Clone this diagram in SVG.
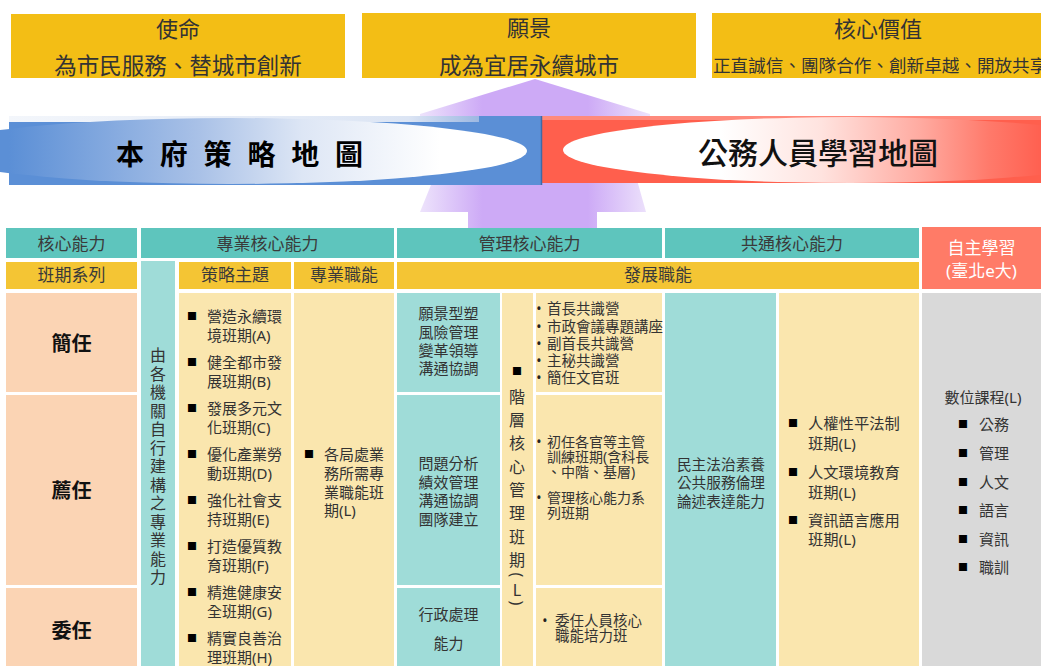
<svg xmlns="http://www.w3.org/2000/svg" width="1041" height="666" viewBox="0 0 1041 666">
<defs>
<linearGradient id="gBlue" gradientUnits="userSpaceOnUse" x1="9" y1="0" x2="440" y2="0">
<stop offset="0" stop-color="#5B8FD6"/>
<stop offset="0.44" stop-color="#A9C1E7"/>
<stop offset="0.68" stop-color="#DDE6F5"/>
<stop offset="1" stop-color="#FFFFFF"/>
</linearGradient>
<linearGradient id="gRed" gradientUnits="userSpaceOnUse" x1="563" y1="0" x2="1041" y2="0">
<stop offset="0" stop-color="#FFFFFF"/>
<stop offset="0.33" stop-color="#FFFFFF"/>
<stop offset="0.54" stop-color="#FFE3DF"/>
<stop offset="0.75" stop-color="#FFAAA0"/>
<stop offset="0.89" stop-color="#FF7A6B"/>
<stop offset="1" stop-color="#FF6050"/>
</linearGradient>
<linearGradient id="gPurp" gradientUnits="userSpaceOnUse" x1="415" y1="0" x2="655" y2="0">
<stop offset="0" stop-color="#F0E8FC"/>
<stop offset="0.28" stop-color="#CDAAF6"/>
<stop offset="0.72" stop-color="#CDAAF6"/>
<stop offset="1" stop-color="#F0E8FC"/>
</linearGradient>
<linearGradient id="gHiB" x1="0" y1="0" x2="1" y2="0">
<stop offset="0" stop-color="#F3F6FB"/>
<stop offset="0.85" stop-color="#DCE5F4"/>
<stop offset="1" stop-color="#9DB8E2"/>
</linearGradient>
<style>
text{font-family:"Noto Sans","Noto Sans CJK TC",sans-serif;dominant-baseline:central}
.tb{font-size:22px;fill:#333;text-anchor:middle}
.h{font-size:17px;fill:#3a3a3a;text-anchor:middle}
.lv{font-size:20px;font-weight:bold;fill:#111;text-anchor:middle}
.t{font-size:15px;fill:#333}
.tc{font-size:15px;fill:#333;text-anchor:middle}
.sm{font-size:14.5px;fill:#333}
.bl{font-size:10px;fill:#000;text-anchor:middle}
.dot{font-size:14px;fill:#222;text-anchor:middle}
.top{fill:#F3BE15}
.teal{fill:#5EC5BD}
.yel{fill:#F4C534}
.peach{fill:#FBD4B4}
.lt{fill:#9FDCD8}
.ly{fill:#FAE6AE}
.gray{fill:#D9D9D9}
</style>
</defs>
<rect width="1041" height="666" fill="#FFFFFF"/>

<g id="mission">
<rect class="top" x="11" y="14" width="334" height="64"/>
<text class="tb" x="178" y="28">使命</text>
<text class="tb" x="178" y="65" style="font-size:22.5px">為市民服務、替城市創新</text>
</g>
<g id="vision">
<rect class="top" x="362" y="13" width="334" height="65"/>
<text class="tb" x="529" y="27">願景</text>
<text class="tb" x="529" y="65" style="font-size:22.5px">成為宜居永續城市</text>
</g>
<g id="values">
<rect class="top" x="712" y="13" width="329" height="65"/>
<text class="tb" x="878" y="28">核心價值</text>
<text x="713" y="65" style="font-size:17.6px;fill:#333">正直誠信、團隊合作、創新卓越、開放共享</text>
</g>

<g id="connectors">
<polygon fill="url(#gPurp)" points="535,79 650,114 650,130 420,130 420,114"/>
<polygon fill="url(#gPurp)" points="433,180 637,180 646,212 597,212 597,228 468,228 468,212 420,212"/>
</g>

<g id="strategy-map">
<rect x="9" y="116" width="532" height="69" fill="#5B8FD6"/>
<rect x="9" y="116" width="470" height="6" fill="url(#gHiB)"/>
<ellipse cx="230" cy="151" rx="297" ry="33" fill="url(#gBlue)"/>
<text x="116" y="154" textLength="247" lengthAdjust="spacing" style="font-size:28px;font-weight:bold;fill:#000">本 府 策 略 地 圖</text>
</g>
<g id="learning-map">
<rect x="542" y="116" width="499" height="67" fill="#FF5F4D"/>
<rect x="542" y="116" width="499" height="4" fill="#FF8A7C"/>
<ellipse cx="850" cy="150" rx="287" ry="33" fill="url(#gRed)"/>
<line x1="541.5" y1="116" x2="541.5" y2="185" stroke="#3F6AA6" stroke-width="1.5"/>
<text x="818" y="152" style="font-size:30px;font-weight:500;fill:#111;text-anchor:middle">公務人員學習地圖</text>
</g>

<g id="hdr-core">
<rect class="teal" x="6" y="228" width="131" height="30"/>
<text class="h" x="71.5" y="243">核心能力</text>
</g>
<g id="hdr-prof">
<rect class="teal" x="141" y="228" width="253" height="30"/>
<text class="h" x="267.5" y="243">專業核心能力</text>
</g>
<g id="hdr-mgmt">
<rect class="teal" x="397" y="228" width="265" height="30"/>
<text class="h" x="529.5" y="243">管理核心能力</text>
</g>
<g id="hdr-common">
<rect class="teal" x="665" y="228" width="254" height="30"/>
<text class="h" x="792" y="243">共通核心能力</text>
</g>
<g id="hdr-self">
<rect x="922" y="227" width="119" height="62" fill="#FF7B67"/>
<text class="h" x="981.5" y="247" style="fill:#FFFFFF">自主學習</text>
<text class="h" x="981.5" y="270" style="fill:#FFFFFF">(臺北e大)</text>
</g>

<g id="hdr-series">
<rect class="yel" x="6" y="262" width="131" height="27"/>
<text class="h" x="71.5" y="274">班期系列</text>
</g>
<g id="hdr-theme">
<rect class="yel" x="179" y="262" width="112" height="27"/>
<text class="h" x="235" y="274">策略主題</text>
</g>
<g id="hdr-func">
<rect class="yel" x="294" y="262" width="100" height="27"/>
<text class="h" x="344" y="274">專業職能</text>
</g>
<g id="hdr-dev">
<rect class="yel" x="397" y="262" width="522" height="27"/>
<text class="h" x="658" y="274">發展職能</text>
</g>

<g id="lv-senior">
<rect class="peach" x="6" y="293" width="131" height="99"/>
<text class="lv" x="71.5" y="343">簡任</text>
</g>
<g id="lv-mid">
<rect class="peach" x="6" y="395" width="131" height="190"/>
<text class="lv" x="71.5" y="490">薦任</text>
</g>
<g id="lv-junior">
<rect class="peach" x="6" y="588" width="131" height="78"/>
<text class="lv" x="71.5" y="630">委任</text>
</g>

<g id="col-agency">
<rect class="lt" x="141" y="261" width="34" height="405"/>
<text class="tc" style="font-size:16px"><tspan x="158" y="355">由</tspan><tspan x="158" y="373.5">各</tspan><tspan x="158" y="392">機</tspan><tspan x="158" y="410.5">關</tspan><tspan x="158" y="429">自</tspan><tspan x="158" y="447.5">行</tspan><tspan x="158" y="466">建</tspan><tspan x="158" y="484.5">構</tspan><tspan x="158" y="503">之</tspan><tspan x="158" y="521.5">專</tspan><tspan x="158" y="540">業</tspan><tspan x="158" y="558.5">能</tspan><tspan x="158" y="577">力</tspan></text>
</g>

<g id="col-theme">
<rect class="ly" x="179" y="293" width="112" height="373"/>
<text class="bl"><tspan x="192" y="316">■</tspan><tspan x="192" y="362">■</tspan><tspan x="192" y="408">■</tspan><tspan x="192" y="454">■</tspan><tspan x="192" y="500">■</tspan><tspan x="192" y="546">■</tspan><tspan x="192" y="592">■</tspan><tspan x="192" y="638">■</tspan></text>
<text class="t"><tspan x="207" y="316">營造永續環</tspan><tspan x="207" y="335">境班期(A)</tspan><tspan x="207" y="362">健全都市發</tspan><tspan x="207" y="381">展班期(B)</tspan><tspan x="207" y="408">發展多元文</tspan><tspan x="207" y="427">化班期(C)</tspan><tspan x="207" y="454">優化產業勞</tspan><tspan x="207" y="473">動班期(D)</tspan><tspan x="207" y="500">強化社會支</tspan><tspan x="207" y="519">持班期(E)</tspan><tspan x="207" y="546">打造優質教</tspan><tspan x="207" y="565">育班期(F)</tspan><tspan x="207" y="592">精進健康安</tspan><tspan x="207" y="611">全班期(G)</tspan><tspan x="207" y="638">精實良善治</tspan><tspan x="207" y="657">理班期(H)</tspan></text>
</g>

<g id="col-func">
<rect class="ly" x="294" y="293" width="100" height="373"/>
<text class="bl" x="309" y="454">■</text>
<text class="t"><tspan x="324" y="454">各局處業</tspan><tspan x="324" y="473">務所需專</tspan><tspan x="324" y="492">業職能班</tspan><tspan x="324" y="510">期(L)</tspan></text>
</g>

<g id="mgmt-skills">
<rect class="lt" x="397" y="293" width="103" height="99"/>
<text class="tc"><tspan x="448.5" y="313">願景型塑</tspan><tspan x="448.5" y="332">風險管理</tspan><tspan x="448.5" y="350">變革領導</tspan><tspan x="448.5" y="368">溝通協調</tspan></text>
<rect class="lt" x="397" y="395" width="103" height="190"/>
<text class="tc"><tspan x="448.5" y="463">問題分析</tspan><tspan x="448.5" y="482">績效管理</tspan><tspan x="448.5" y="500">溝通協調</tspan><tspan x="448.5" y="519">團隊建立</tspan></text>
<rect class="lt" x="397" y="588" width="103" height="78"/>
<text class="tc"><tspan x="448.5" y="614">行政處理</tspan><tspan x="448.5" y="643">能力</tspan></text>
</g>

<g id="mgmt-tier">
<rect class="ly" x="502" y="293" width="31" height="373"/>
<text class="bl" x="517" y="371">■</text>
<text class="tc" style="font-size:16px"><tspan x="517" y="397">階</tspan><tspan x="517" y="420">層</tspan><tspan x="517" y="443">核</tspan><tspan x="517" y="467">心</tspan><tspan x="517" y="490">管</tspan><tspan x="517" y="513">理</tspan><tspan x="517" y="537">班</tspan><tspan x="517" y="560">期</tspan><tspan x="517" y="590">L</tspan></text>
<text class="tc" style="font-size:16px" x="517" y="575" transform="rotate(90 517 575)">(</text>
<text class="tc" style="font-size:16px" x="517" y="603" transform="rotate(90 517 603)">)</text>
</g>

<g id="mgmt-courses">
<rect class="ly" x="536" y="293" width="126" height="99"/>
<text class="dot"><tspan x="539" y="308">•</tspan><tspan x="539" y="326">•</tspan><tspan x="539" y="343">•</tspan><tspan x="539" y="360">•</tspan><tspan x="539" y="377">•</tspan></text>
<text class="sm"><tspan x="547" y="308">首長共識營</tspan><tspan x="547" y="326">市政會議專題講座</tspan><tspan x="547" y="343">副首長共識營</tspan><tspan x="547" y="360">主秘共識營</tspan><tspan x="547" y="377">簡任文官班</tspan></text>
<rect class="ly" x="536" y="395" width="126" height="190"/>
<text class="dot"><tspan x="539" y="441">•</tspan><tspan x="539" y="497">•</tspan></text>
<text class="sm" style="font-size:14px"><tspan x="547" y="441">初任各官等主管</tspan><tspan x="547" y="456">訓練班期(含科長</tspan><tspan x="547" y="471">、中階、基層)</tspan><tspan x="547" y="497">管理核心能力系</tspan><tspan x="547" y="512">列班期</tspan></text>
<rect class="ly" x="536" y="588" width="126" height="78"/>
<text class="dot" x="545" y="620">•</text>
<text class="sm"><tspan x="555" y="620">委任人員核心</tspan><tspan x="555" y="635">職能培力班</tspan></text>
</g>

<g id="common-skills">
<rect class="lt" x="665" y="293" width="111" height="373"/>
<text class="tc" style="font-size:14.7px"><tspan x="721" y="463.5">民主法治素養</tspan><tspan x="721" y="482">公共服務倫理</tspan><tspan x="721" y="500.5">論述表達能力</tspan></text>
</g>

<g id="common-courses">
<rect class="ly" x="779" y="293" width="140" height="373"/>
<text class="bl"><tspan x="793" y="423">■</tspan><tspan x="793" y="472">■</tspan><tspan x="793" y="520">■</tspan></text>
<text class="t" style="font-size:15.3px"><tspan x="808" y="423">人權性平法制</tspan><tspan x="808" y="443">班期(L)</tspan><tspan x="808" y="472">人文環境教育</tspan><tspan x="808" y="492">班期(L)</tspan><tspan x="808" y="520">資訊語言應用</tspan><tspan x="808" y="539">班期(L)</tspan></text>
</g>

<g id="self-learning">
<rect class="gray" x="922" y="293" width="119" height="373"/>
<text class="tc" x="983" y="397">數位課程(L)</text>
<text class="bl"><tspan x="963" y="424">■</tspan><tspan x="963" y="453">■</tspan><tspan x="963" y="482">■</tspan><tspan x="963" y="510">■</tspan><tspan x="963" y="539">■</tspan><tspan x="963" y="567">■</tspan></text>
<text class="t"><tspan x="979" y="424">公務</tspan><tspan x="979" y="453">管理</tspan><tspan x="979" y="482">人文</tspan><tspan x="979" y="510">語言</tspan><tspan x="979" y="539">資訊</tspan><tspan x="979" y="567">職訓</tspan></text>
</g>
</svg>
